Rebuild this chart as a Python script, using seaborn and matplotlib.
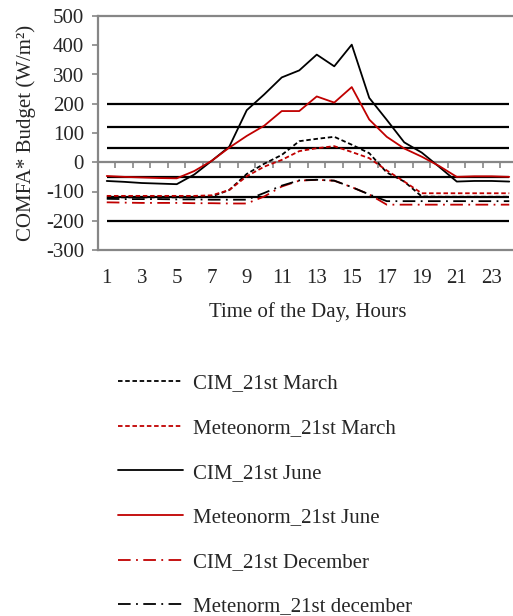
import numpy as np
import pandas as pd
import matplotlib
matplotlib.use('Agg')
import matplotlib.pyplot as plt
import seaborn as sns

sns.set_style('white')
plt.rcParams['font.family'] = ['Liberation Serif', 'DejaVu Serif']
plt.rcParams['axes.unicode_minus'] = False

# Hour of the day (category axis)
hours = list(range(1, 25))
tick_hours = list(range(1, 24, 2))

# COMFA* budget values (W/m2)
cim_march = [-120, -120, -120, -120, -120, -120, -117, -95, -40, -5, 25, 72,
             80, 87, 60, 31, -35, -66, -117, -118, -118, -118, -118, -118]
met_march = [-115, -115, -115, -115, -115, -115, -113, -95, -48, -15, 8, 38,
             48, 55, 35, 14, -28, -66, -106, -106, -106, -106, -106, -106]
cim_june = [-64, -67, -71, -73, -75, -42, 5, 53, 178, 232, 290, 314,
            368, 328, 402, 220, 145, 68, 33, -16, -66, -64, -64, -66]
met_june = [-47, -50, -52, -54, -55, -30, 5, 50, 90, 125, 175, 175,
            225, 204, 257, 146, 87, 47, 19, -13, -50, -48, -48, -50]
cim_dec = [-137, -138, -139, -139, -139, -140, -140, -141, -141, -117, -83, -63,
           -60, -63, -85, -110, -145, -145, -145, -145, -145, -145, -145, -145]
met_dec = [-125, -126, -126, -126, -127, -127, -128, -128, -128, -105, -80, -62,
           -60, -63, -85, -110, -133, -133, -133, -133, -133, -133, -133, -133]

# Comfort class thresholds
thresholds = [200, 120, 50, -50, -120, -200]

red = '#C00000'
dash = (0, (2.5, 1.5))
dashdot = (0, (7, 3, 1, 3))
series = [
    ('CIM_21st March', cim_march, 'black', dash),
    ('Meteonorm_21st March', met_march, red, dash),
    ('CIM_21st June', cim_june, 'black', '-'),
    ('Meteonorm_21st June', met_june, red, '-'),
    ('CIM_21st December', cim_dec, red, dashdot),
    ('Metenorm_21st december', met_dec, 'black', dashdot),
]

fig = plt.figure(figsize=(5.13, 6.16), dpi=100)
ax = fig.add_axes([98 / 513, 1 - 250 / 616, 420 / 513, 234 / 616])

ax.hlines(thresholds, hours[0], hours[-1], colors='black', lw=1.6, zorder=2)

for name, vals, col, ls in series:
    sns.lineplot(x=hours, y=vals, color=col, linestyle=ls, lw=1.3,
                 label=name, legend=False, ax=ax, zorder=3)

ax.set_xlim(0.5, 24.5)
ax.set_ylim(-300, 500)
ax.set_yticks(range(-300, 501, 100))
ax.set_xticks(tick_hours)
ax.tick_params(axis='x', length=0, pad=14, labelsize=15)
ax.tick_params(axis='y', length=4, width=1.2, color='#868686', direction='out',
               pad=6, labelsize=15, left=True)
for s in ax.spines.values():
    s.set_color('#868686')
    s.set_linewidth(1.6)

# category axis crossing at zero with tick marks between categories
sec = ax.secondary_xaxis(0, transform=ax.transData)
sec.spines['bottom'].set_color('#868686')
sec.spines['bottom'].set_linewidth(1.6)
sec.set_xticks([h + 0.5 for h in hours[:-1]])
sec.set_xticklabels([])
sec.tick_params(axis='x', length=4, width=1.2, color='#868686', direction='out')

ax.set_xlabel('Time of the Day, Hours', fontsize=15, labelpad=10)
ax.set_ylabel('COMFA* Budget (W/m²)', fontsize=15, labelpad=7)

handles, labels = ax.get_legend_handles_labels()
fig.legend(handles, labels, loc='upper left', bbox_to_anchor=(118 / 513, 1 - 374 / 616),
           frameon=False, fontsize=15, handlelength=3.1, handletextpad=0.5,
           labelspacing=1.2, borderpad=0, borderaxespad=0)

fig.savefig('out.png', dpi=100)
